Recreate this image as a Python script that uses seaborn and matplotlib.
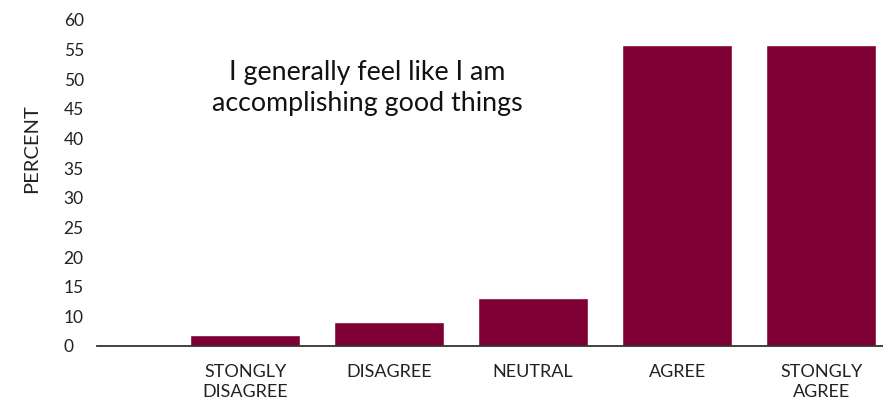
import numpy as np
import pandas as pd
import matplotlib
matplotlib.use("Agg")
import matplotlib.pyplot as plt
import seaborn as sns

categories = ["STONGLY\nDISAGREE", "DISAGREE", "NEUTRAL", "AGREE", "STONGLY\nAGREE"]
percent = [3.7, 8.1, 13.1, 55.8, 55.8]
tick_values = [0, 10, 15, 20, 25, 30, 35, 40, 45, 50, 55, 60]
tick_labels = [str(v) for v in tick_values]
title_text = "I generally feel like I am\naccomplishing good things"

sns.set_theme(style="white")
plt.rcParams["font.family"] = ["Lato", "DejaVu Sans"]

BAR_COLOR = "#7E0034"
TEXT_COLOR = "#222222"

df = pd.DataFrame({"category": categories, "percent": percent})

W, H = 883, 400
ax_left, ax_bottom, ax_top = 97, 346, 20

fig = plt.figure(figsize=(W / 100, H / 100), dpi=100)
ax = fig.add_axes([ax_left / W, (H - ax_bottom) / H, 1 - ax_left / W,
                   (ax_bottom - ax_top) / H])

sns.barplot(data=df, x="category", y="percent", color=BAR_COLOR,
            saturation=1, width=0.764, ax=ax)

# evenly spaced labels: the 0-10 step takes the same room as each 5-step above
seg_v = [0, 10, 60]
seg_u = [0, 1, 11]
ax.set_yscale("function",
              functions=(lambda v: np.interp(v, seg_v, seg_u),
                         lambda u: np.interp(u, seg_u, seg_v)))
ax.set_ylim(0, 60)
ax.set_xlim(-1.03, 4.43)

ax.set_yticks(tick_values)
ax.set_yticklabels(tick_labels)
ax.tick_params(axis="y", length=0, pad=24, labelsize=12.5, labelcolor=TEXT_COLOR)
for lbl in ax.get_yticklabels():
    lbl.set_horizontalalignment("left")

ax.tick_params(axis="x", length=0, pad=13, labelsize=13, labelcolor=TEXT_COLOR)
for lbl in ax.get_xticklabels():
    lbl.set_linespacing(1.3)

ax.set_xlabel("")
ax.set_ylabel("PERCENT", fontsize=14.5, color=TEXT_COLOR)
ax.yaxis.set_label_coords((40 - ax_left) / (W - ax_left),
                          1 - (149 - ax_top) / (ax_bottom - ax_top))

for side in ["top", "right", "left"]:
    ax.spines[side].set_visible(False)
ax.spines["bottom"].set_color("#333333")
ax.spines["bottom"].set_linewidth(1.3)

fig.text(367 / W, 1 - 88 / H, title_text, ha="center", va="center",
         fontsize=19.3, color="#111111", linespacing=1.3)

fig.savefig("out.png", dpi=100)
